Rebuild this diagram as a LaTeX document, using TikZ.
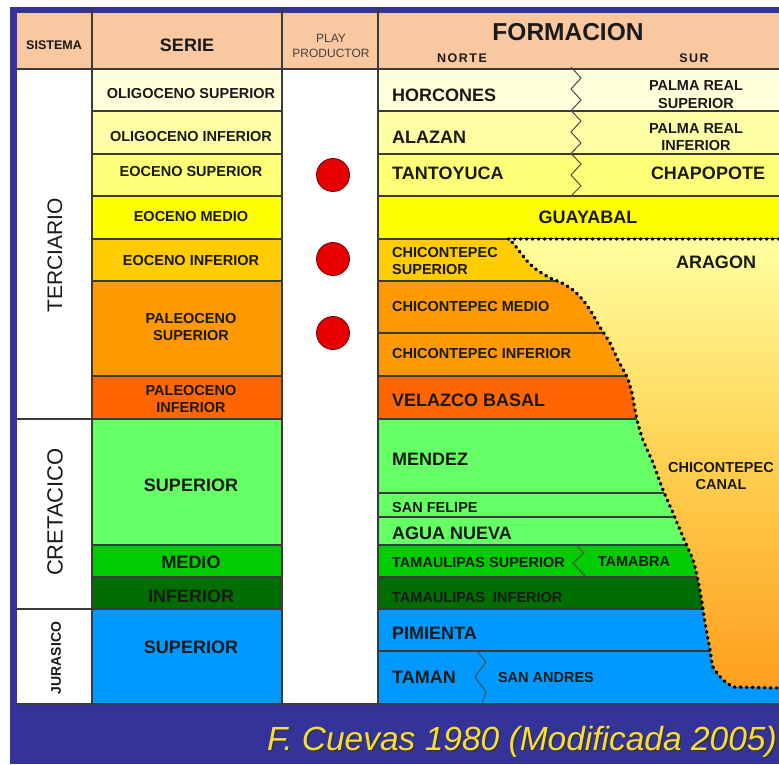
\documentclass[tikz,border=0pt]{standalone}
\usepackage{fontspec}
\setmainfont{Liberation Sans}
\usetikzlibrary{calc}
\definecolor{frameblue}{HTML}{333399}
\definecolor{hdr}{HTML}{FAC8A0}
\definecolor{cA}{HTML}{FFFFD9}
\definecolor{cB}{HTML}{FFFFA6}
\definecolor{cC}{HTML}{FFFF77}
\definecolor{cD}{HTML}{FFFF00}
\definecolor{cE}{HTML}{FFCC00}
\definecolor{cF}{HTML}{FF9900}
\definecolor{cG}{HTML}{FF6600}
\definecolor{cH}{HTML}{66FF66}
\definecolor{cI}{HTML}{00CC00}
\definecolor{cJ}{HTML}{006E00}
\definecolor{cK}{HTML}{0099FF}
\definecolor{txt}{HTML}{1A1A1A}
\definecolor{lin}{HTML}{3A3A3A}
\definecolor{capy}{HTML}{F7DC3C}
\definecolor{gtop}{HTML}{FFFFA0}
\definecolor{gmid}{HTML}{FFD050}
\definecolor{gbot}{HTML}{FF9E1E}
\definecolor{dotred}{HTML}{E80000}
\begin{document}
\begin{tikzpicture}[x=1pt,y=-1pt,
  sm/.style={font=\fontsize{14.5}{17.5}\selectfont\bfseries, text=txt, inner sep=0pt, align=center},
  bg/.style={font=\fontsize{18}{20}\selectfont\bfseries, text=txt, inner sep=0pt, align=center},
  rowline/.style={draw=lin, line width=1.3pt},
  zig/.style={draw=black!70, line width=1pt},
  dotline/.style={draw=black, line width=3.4pt, line cap=round, dash pattern=on 0.8pt off 5.2pt},
  play/.style={circle, fill=dotred, draw=red!40!black, line width=0.8pt, minimum size=33pt, inner sep=0pt}]
\useasboundingbox (0,0) rectangle (779,764);
\fill[white] (0,0) rectangle (779,764);
% frame
\fill[frameblue] (10,7) rectangle (779,13);
\fill[frameblue] (10,7) rectangle (17,704);
\fill[frameblue] (10,704) rectangle (779,764);
% header
\fill[hdr] (17,13) rectangle (779,69);
% sistema and play columns
\fill[white] (17,69) rectangle (92,704);
\fill[white] (282,69) rectangle (378,704);
% serie cells
\fill[cA] (92,69) rectangle (282,111);
\fill[cB] (92,111) rectangle (282,154);
\fill[cC] (92,154) rectangle (282,196);
\fill[cD] (92,196) rectangle (282,239);
\fill[cE] (92,239) rectangle (282,281);
\fill[cF] (92,281) rectangle (282,376);
\fill[cG] (92,376) rectangle (282,419);
\fill[cH] (92,419) rectangle (282,545);
\fill[cI] (92,545) rectangle (282,577);
\fill[cJ] (92,577) rectangle (282,609);
\fill[cK] (92,609) rectangle (282,704);
% formacion rows
\fill[cA] (378,69) rectangle (779,111);
\fill[cB] (378,111) rectangle (779,154);
\fill[cC] (378,154) rectangle (779,196);
\fill[cD] (378,196) rectangle (779,239);
\fill[cE] (378,239) rectangle (779,281);
\fill[cF] (378,281) rectangle (779,376);
\fill[cG] (378,376) rectangle (779,419);
\fill[cH] (378,419) rectangle (779,545);
\fill[cI] (378,545) rectangle (779,577);
\fill[cJ] (378,577) rectangle (779,609);
\fill[cK] (378,609) rectangle (779,704);
% row lines
\foreach \yy in {111,154,196,239,281,376,419,545,577,609}
  \draw[rowline] (92,\yy) -- (282,\yy);
\foreach \yy in {111,154,196,239,281,333,376,419,493,517,545,577,609,651}
  \draw[rowline] (378,\yy) -- (779,\yy);
\draw[rowline] (17,419) -- (92,419);
\draw[rowline] (17,609) -- (92,609);
\draw[rowline] (17,69) -- (779,69);
\draw[rowline] (17,704) -- (779,704);
\foreach \xx in {92,282,378}
  \draw[rowline] (\xx,8) -- (\xx,704);
% canal / aragon region
\path[top color=gtop, bottom color=gbot, middle color=gmid]
  (779,239) -- (779,688) -- plot[smooth, tension=0.4] coordinates {(733,687) (723,680) (713,667) (710,650) (705,623) (702,603) (698,580) (693,560) (683,537) (673,513) (663,490) (653,463) (643,440) (638,424) (635,410) (632,393) (627,377) (618,360) (610,343) (600,327) (592,313) (583,300) (573,290) (562,283) (550,278) (537,270) (528,262) (520,252) (513,243) (508,239)} -- cycle;
\draw[dotline] (779,239) -- (508,239) -- plot[smooth, tension=0.4] coordinates {(508,239) (513,243) (520,252) (528,262) (537,270) (550,278) (562,283) (573,290) (583,300) (592,313) (600,327) (610,343) (618,360) (627,377) (632,393) (635,410) (638,424) (643,440) (653,463) (663,490) (673,513) (683,537) (693,560) (698,580) (702,603) (705,623) (710,650) (713,667) (723,680) (733,687)} -- (779,688);
% zigzags
\draw[zig] (571,67) -- (581,78) -- (571,89) -- (581,100) -- (571,110.5) -- (581,121) -- (571,132) -- (581,143) -- (571,153.5) -- (581,164) -- (571,175) -- (581,186) -- (571,196);
\draw[zig] (575,544) -- (584,553) -- (573,563) -- (585,576);
\draw[zig] (477,651) -- (486,662) -- (475,677) -- (486,692) -- (482,703);
% play producers
\node[play] (p1) at (333,175) {};
\node[play] (p2) at (333,259) {};
\node[play] (p3) at (333,333) {};
% header texts
\node[font=\fontsize{12.5}{14}\selectfont\bfseries, text=txt, inner sep=0pt] (hsis) at (54,45) {SISTEMA};
\node[bg] (hser) at (187,45) {SERIE};
\node[font=\fontsize{12}{14.5}\selectfont, text=black!75, inner sep=0pt, align=center] (hplay) at (331,46) {PLAY\\PRODUCTOR};
\node[font=\fontsize{24.5}{26}\selectfont\bfseries, text=txt, inner sep=0pt] (hfor) at (568,32) {FORMACION};
\node[font=\fontsize{12.5}{14}\selectfont\bfseries\addfontfeatures{LetterSpace=12}, text=txt, inner sep=0pt] (hnor) at (462,58) {NORTE};
\node[font=\fontsize{12.5}{14}\selectfont\bfseries\addfontfeatures{LetterSpace=12}, text=txt, inner sep=0pt] (hsur) at (694,58) {SUR};
% sistema
\node[font=\fontsize{21}{24}\selectfont, text=txt, inner sep=0pt, rotate=90] (ster) at (55,255) {TERCIARIO};
\node[font=\fontsize{22}{24}\selectfont, text=txt, inner sep=0pt, rotate=90] (scre) at (55,512) {CRETACICO};
\node[font=\fontsize{14}{16}\selectfont\bfseries, text=txt, inner sep=0pt, rotate=90] (sjur) at (56,658) {JURASICO};
% serie
\node[sm] (e1) at (191,94) {OLIGOCENO SUPERIOR};
\node[sm] (e2) at (191,137) {OLIGOCENO INFERIOR};
\node[sm] (e3) at (191,172) {EOCENO SUPERIOR};
\node[sm] (e4) at (191,217) {EOCENO MEDIO};
\node[sm] (e5) at (191,261) {EOCENO INFERIOR};
\node[sm] (e6) at (191,327) {PALEOCENO\\SUPERIOR};
\node[sm] (e7) at (191,399) {PALEOCENO\\INFERIOR};
\node[bg] (e8) at (191,485) {SUPERIOR};
\node[bg] (e9) at (191,562) {MEDIO};
\node[bg] (e10) at (191,596) {INFERIOR};
\node[bg] (e11) at (191,647) {SUPERIOR};
% formacion
\node[bg, anchor=west] (f1) at (392,95) {HORCONES};
\node[bg, anchor=west] (f2) at (392,137) {ALAZAN};
\node[bg, anchor=west] (f3) at (392,173) {TANTOYUCA};
\node[sm] (f4) at (696,94.5) {PALMA REAL\\SUPERIOR};
\node[sm] (f5) at (696,137) {PALMA REAL\\INFERIOR};
\node[bg] (f6) at (708,173) {CHAPOPOTE};
\node[bg] (f7) at (588,217) {GUAYABAL};
\node[sm, anchor=west, align=left] (f8) at (392,261) {CHICONTEPEC\\SUPERIOR};
\node[bg] (f9) at (716,262) {ARAGON};
\node[sm, anchor=west] (f10) at (392,307) {CHICONTEPEC MEDIO};
\node[sm, anchor=west] (f11) at (392,353) {CHICONTEPEC INFERIOR};
\node[bg, anchor=west] (f12) at (392,400) {VELAZCO BASAL};
\node[bg, anchor=west] (f13) at (392,459) {MENDEZ};
\node[sm] (f14) at (721,476) {CHICONTEPEC\\CANAL};
\node[sm, anchor=west] (f15) at (392,507) {SAN FELIPE};
\node[bg, anchor=west] (f16) at (392,533) {AGUA NUEVA};
\node[sm, anchor=west] (f17) at (392,562) {TAMAULIPAS SUPERIOR};
\node[sm] (f18) at (634,562) {TAMABRA};
\node[sm, anchor=west] (f19) at (392,597) {TAMAULIPAS\ \ INFERIOR};
\node[bg, anchor=west] (f20) at (392,633) {PIMIENTA};
\node[bg, anchor=west] (f21) at (392,677) {TAMAN};
\node[sm] (f22) at (546,677) {SAN ANDRES};
% caption
\node[anchor=base east, font=\fontsize{33.5}{36}\selectfont\itshape, text=black!80, inner sep=0pt] (capsh) at (778.5,751.5) {F. Cuevas 1980 (Modificada 2005)};
\node[anchor=base east, font=\fontsize{33.5}{36}\selectfont\itshape, text=capy, inner sep=0pt] (cap) at (777,750) {F. Cuevas 1980 (Modificada 2005)};
\end{tikzpicture}
\end{document}
